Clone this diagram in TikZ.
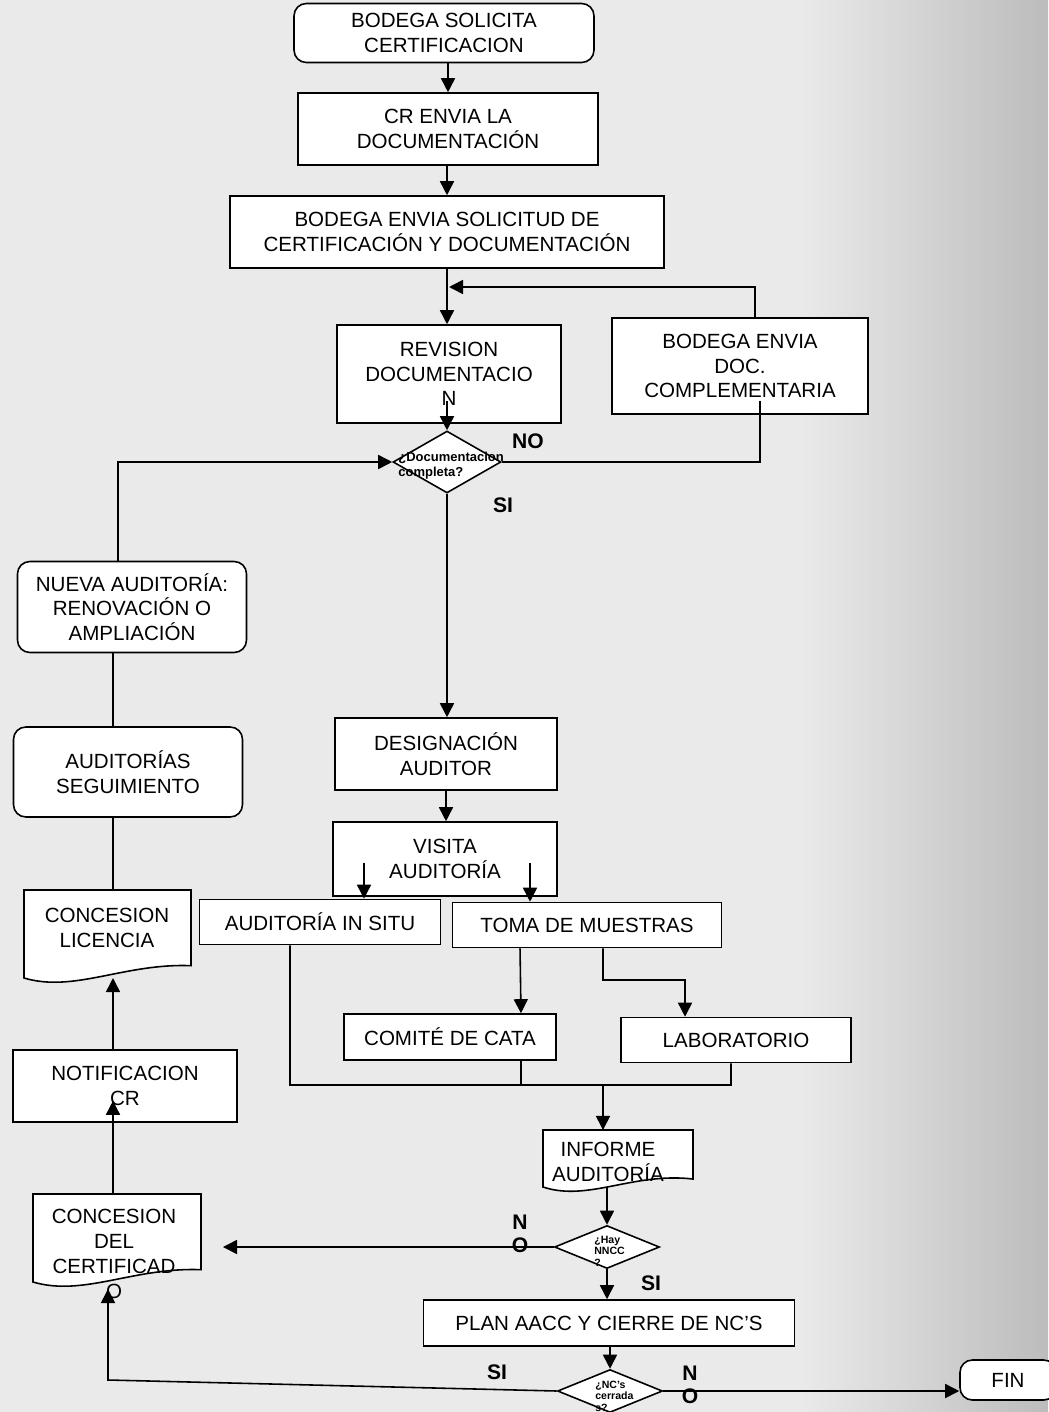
\documentclass[tikz,border=0pt]{standalone}
\usepackage{fontspec}
\setmainfont{Liberation Sans}
\usetikzlibrary{shapes.geometric,arrows.meta,calc,positioning}
\definecolor{bgbase}{RGB}{234,234,234}
\definecolor{bgdark}{RGB}{188,188,188}
\newcommand{\docline}[1]{\draw[ln,fill=white] (#1.north west) -- (#1.north east) -- ($(#1.south east)!0.14!(#1.north east)$) .. controls ($(#1.south west)!0.6!(#1.south east)+(0,0.3cm)$) and ($(#1.south west)!0.3!(#1.south east)+(0,-0.3cm)$) .. (#1.south west) -- cycle;}
\begin{document}
\begin{tikzpicture}[x=0.02cm,y=-0.02cm,
  ln/.style={line width=0.9pt},
  box/.style={draw,fill=white,ln,align=center,inner sep=0pt,font=\fontsize{11.7}{14}\selectfont},
  rbox/.style={box,rounded corners=7pt},
  dframe/.style={inner sep=0pt,outer sep=0pt},
  txt/.style={align=center,inner sep=0pt,font=\fontsize{11.7}{14}\selectfont},
  cond/.style={diamond,draw,fill=white,ln,inner sep=0pt},
  ctxt/.style={align=left,inner sep=0pt,font=\bfseries\fontsize{6}{6.5}\selectfont},
  ans/.style={align=center,inner sep=0pt,font=\bfseries\fontsize{12}{13}\selectfont},
  arr/.style={ln,-{Triangle[length=8pt,width=8pt]}}]
\useasboundingbox (0,0) rectangle (1048,1412);
\fill[bgbase] (0,0) rectangle (1048,1412);
\shade[left color=bgbase,right color=bgdark] (800,0) rectangle (1048,1412);

\node[rbox,minimum width=6cm,minimum height=1.18cm] (sol) at (444,33) {BODEGA SOLICITA\\CERTIFICACION};
\node[box,minimum width=6cm,minimum height=1.44cm] (cr) at (448,129) {CR ENVIA LA\\DOCUMENTACIÓN};
\node[box,minimum width=8.68cm,minimum height=1.44cm] (env) at (447,232) {BODEGA ENVIA SOLICITUD DE\\CERTIFICACIÓN Y DOCUMENTACIÓN};
\node[box,minimum width=4.48cm,minimum height=1.96cm] (rev) at (449,374) {REVISION\\DOCUMENTACIO\\N};
\node[box,minimum width=5.12cm,minimum height=1.92cm] (comp) at (740,366) {BODEGA ENVIA\\DOC.\\COMPLEMENTARIA};
\node[cond,minimum width=2.16cm,minimum height=1.24cm] (doc) at (447,462) {};
\node[ctxt,font=\bfseries\fontsize{7.4}{8.5}\selectfont,anchor=west] (doctxt) at (398,466) {¿Documentacion\\completa?};

\node[rbox,minimum width=4.58cm,minimum height=1.82cm] (nueva) at (132,607) {NUEVA AUDITORÍA:\\RENOVACIÓN O\\AMPLIACIÓN};
\node[rbox,minimum width=4.58cm,minimum height=1.8cm] (seg) at (128,772) {AUDITORÍAS\\SEGUIMIENTO};
\node[dframe,minimum width=3.34cm,minimum height=1.76cm] (lic) at (107.5,934) {};
\docline{lic}
\node[txt] (lictxt) at (107,928) {CONCESION\\LICENCIA};

\node[box,minimum width=4.44cm,minimum height=1.44cm] (desig) at (446,754) {DESIGNACIÓN\\AUDITOR};
\node[box,minimum width=4.48cm,minimum height=1.48cm] (vis) at (445,859) {VISITA\\AUDITORÍA};
\node[box,minimum width=4.82cm,minimum height=0.9cm] (situ) at (320,922) {AUDITORÍA IN SITU};
\node[box,minimum width=5.38cm,minimum height=0.9cm] (toma) at (587,925) {TOMA DE MUESTRAS};
\node[box,minimum width=4.24cm,minimum height=0.92cm] (cata) at (450,1037) {COMITÉ DE CATA};
\node[box,minimum width=4.6cm,minimum height=0.9cm] (lab) at (736,1040) {LABORATORIO};

\node[dframe,minimum width=3cm,minimum height=1.14cm] (inf) at (618,1158.5) {};
\docline{inf}
\node[txt] (inftxt) at (608,1162) {INFORME\\AUDITORÍA};
\node[cond,minimum width=2.1cm,minimum height=0.86cm] (hay) at (607,1247) {};
\node[ctxt,anchor=west] (haytxt) at (594,1251) {¿Hay\\NNCC\\?};

\node[box,minimum width=4.48cm,minimum height=1.44cm] (notif) at (125,1086) {NOTIFICACION\\CR};
\node[dframe,minimum width=3.36cm,minimum height=1.76cm] (cert) at (117,1238) {};
\docline{cert}
\node[txt,font=\fontsize{11.7}{14.2}\selectfont] (certtxt) at (114,1254) {CONCESION\\DEL\\CERTIFICAD\\O};

\node[box,minimum width=7.42cm,minimum height=0.92cm] (plan) at (609,1323) {PLAN AACC Y CIERRE DE NC’S};
\node[cond,minimum width=2.1cm,minimum height=0.86cm] (nc) at (610,1391) {};
\node[ctxt,anchor=west] (nctxt) at (595,1396) {¿NC’s\\cerrada\\s?};
\node[rbox,minimum width=1.92cm,minimum height=0.8cm] (fin) at (1008,1380) {FIN};

\node[ans] (no1) at (528,441) {NO};
\node[ans] (si1) at (503,505) {SI};
\node[ans] (no2) at (520,1234) {N\\O};
\node[ans] (si2) at (651,1283) {SI};
\node[ans] (si3) at (497,1372) {SI};
\node[ans] (no3) at (690,1385) {N\\O};

\coordinate (join) at (449,287);
\coordinate (v1) at (364,863);
\coordinate (v2) at (530,863);
\coordinate (tl) at (603,980);
\coordinate (busL) at (290,1085);
\coordinate (busR) at (731,1085);
\coordinate (busM) at (603,1085);
\coordinate (ncL) at (108,1380);

\draw[arr] (sol.south -| cr.north) -- (cr.north);
\draw[arr] (cr.south -| env.north) -- (env.north);
\draw[arr] (env.south) -- (env.south |- rev.north);
\draw[arr] ([xshift=0.3cm]comp.north) |- (join);
\draw[arr] ($(rev.south -| doc.north)+(0,0.46cm)$) -- (doc.north);
\draw[ln] (doc.east) -| ($(comp.south)+(0.4cm,0.28cm)$);
\draw[arr] ([xshift=-0.28cm]nueva.north) |- (doc.west);
\draw[arr] (doc.south) -- (doc.south |- desig.north);
\draw[ln] ([xshift=-0.3cm]seg.north) -- ([xshift=-0.3cm]seg.north |- nueva.south);
\draw[ln] ([xshift=-0.3cm]seg.south) -- ([xshift=-0.3cm]seg.south |- lic.north);
\draw[arr] (desig.south) -- (desig.south |- vis.north);
\draw[arr] (v1) -- (v1 |- situ.north);
\draw[arr] (v2) -- (v2 |- toma.north);
\draw[arr] ([xshift=-1.34cm]toma.south) -- ([xshift=1.42cm]cata.north);
\draw[arr] ([xshift=0.32cm]toma.south) -- (tl) -| ([xshift=-1.02cm]lab.north);
\draw[ln] ([xshift=-0.6cm]situ.south) -- (busL) -- (busR) -- ([xshift=-0.1cm]lab.south);
\draw[ln] ([xshift=1.42cm]cata.south) -- ([xshift=1.42cm]cata.south |- busL);
\draw[arr] (busM) -- (busM |- inf.north);
\draw[arr] (hay.north |- inf.south) -- (hay.north);
\draw[arr] (hay.west) -- ($(hay.west -| cert.east)+(0.44cm,0)$);
\draw[arr] (hay.south) -- (hay.south |- plan.north);
\draw[arr] (plan.south -| nc.north) -- (nc.north);
\draw[arr] (nc.west) -- (ncL) -- ($(ncL |- cert.south)+(0,-0.14cm)$);
\draw[arr] (nc.east) -- (nc.east -| fin.west);
\draw[arr] ([xshift=-0.08cm]cert.north) -- ($([xshift=-0.08cm]cert.north |- notif.south)+(0,0.44cm)$);
\draw[arr] ([xshift=-0.24cm]notif.north) -- ([xshift=-0.24cm]notif.north |- lic.south);
\end{tikzpicture}
\end{document}
